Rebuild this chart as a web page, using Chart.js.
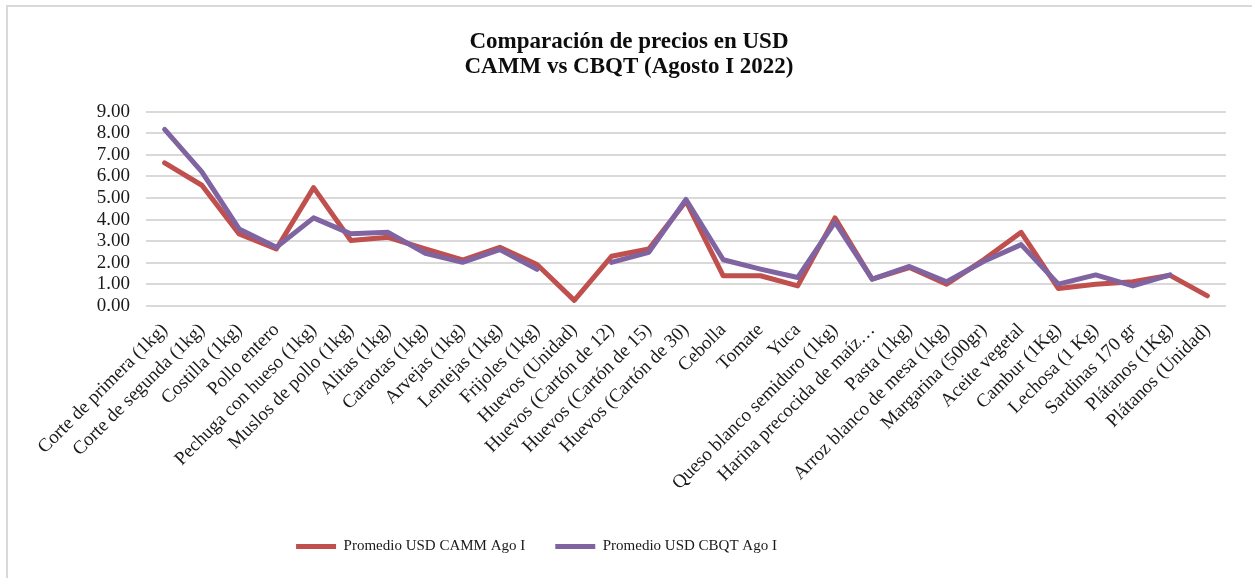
<!DOCTYPE html>
<html>
<head>
<meta charset="utf-8">
<script src="https://cdn.jsdelivr.net/npm/chart.js@4"></script>
<style>
  html, body { margin: 0; padding: 0; background: #fff; }
  #wrap { position: relative; width: 1252px; height: 578px; overflow: hidden; }
  #frame { position: absolute; left: 6px; top: 5px; width: 1300px; height: 700px;
           border-left: 2px solid #d9d9d9; border-top: 2px solid #d9d9d9; }
  canvas { position: absolute; left: 0; top: 0; }
</style>
</head>
<body>
<div id="wrap">
  <div id="frame"></div>
  <canvas id="c" width="1252" height="578"></canvas>
</div>
<script>
const categories = [
  "Corte de primera (1kg)", "Corte de segunda (1kg)", "Costilla (1kg)", "Pollo entero",
  "Pechuga con hueso (1kg)", "Muslos de pollo (1kg)", "Alitas (1kg)", "Caraotas (1kg)",
  "Arvejas (1kg)", "Lentejas (1kg)", "Frijoles (1kg)", "Huevos (Unidad)",
  "Huevos (Cartón de 12)", "Huevos (Cartón de 15)", "Huevos (Cartón de 30)", "Cebolla",
  "Tomate", "Yuca", "Queso blanco semiduro (1kg)", "Harina precocida de maíz…",
  "Pasta (1kg)", "Arroz blanco de mesa (1kg)", "Margarina (500gr)", "Aceite vegetal",
  "Cambur (1Kg)", "Lechosa (1 Kg)", "Sardinas 170 gr", "Plátanos (1Kg)", "Plátanos (Unidad)"
];
const cammValues = [6.63, 5.59, 3.34, 2.64, 5.48, 3.03, 3.18, 2.64, 2.13, 2.72, 1.92, 0.26,
  2.30, 2.64, 4.85, 1.40, 1.40, 0.93, 4.08, 1.24, 1.78, 1.01, 2.15, 3.41, 0.81, 1.01, 1.12, 1.42, 0.47];
const cbqtValues = [8.18, 6.21, 3.57, 2.72, 4.08, 3.34, 3.41, 2.44, 2.02, 2.61, 1.70, null,
  2.02, 2.48, 4.93, 2.14, 1.71, 1.32, 3.88, 1.24, 1.83, 1.12, 2.07, 2.84, 1.01, 1.44, 0.93, 1.44, null];
const seriesNames = ["Promedio USD CAMM Ago I", "Promedio USD CBQT Ago I"];
const titleLines = ["Comparación de precios en USD", "CAMM vs CBQT (Agosto I 2022)"];
const yTicks = [0, 1, 2, 3, 4, 5, 6, 7, 8, 9];

const FONT = "'Liberation Serif', 'Times New Roman', serif";
const TXT = "#1a1a1a";

// centre the title and legend boxes where the reference places them
function recentre(box, centre) {
  if (!box) return;
  const half = (box.right - box.left) / 2;
  box.left = centre - half;
  box.right = centre + half;
}
const boxShift = {
  id: 'boxShift',
  afterLayout(chart) {
    recentre(chart.legend, 536.5);
    recentre(chart.titleBlock, 629);
  }
};

new Chart(document.getElementById('c'), {
  type: 'line',
  data: {
    labels: categories,
    datasets: [
      { label: seriesNames[0], data: cammValues, borderColor: '#c0504d', backgroundColor: '#c0504d',
        borderWidth: 5, pointRadius: 0, pointHoverRadius: 0, tension: 0, spanGaps: false,
        borderCapStyle: 'round', borderJoinStyle: 'round', order: 1 },
      { label: seriesNames[1], data: cbqtValues, borderColor: '#8064a2', backgroundColor: '#8064a2',
        borderWidth: 5, pointRadius: 0, pointHoverRadius: 0, tension: 0, spanGaps: false,
        borderCapStyle: 'round', borderJoinStyle: 'round', order: 0 }
    ]
  },
  plugins: [boxShift],
  options: {
    responsive: false,
    animation: false,
    layout: { padding: { left: 0, right: 26, top: 0, bottom: 14 } },
    plugins: {
      tooltip: { enabled: false },
      title: {
        display: true, text: titleLines, color: '#0d0d0d',
        font: { family: FONT, size: 23, weight: 'bold', lineHeight: 1.1 },
        padding: { top: 29, bottom: 32 }
      },
      legend: {
        position: 'bottom',
        labels: {
          color: TXT, font: { family: FONT, size: 15 },
          usePointStyle: true, pointStyle: 'line', pointStyleWidth: 40, boxHeight: 5,
          padding: 30,
          sort: (a, b) => a.datasetIndex - b.datasetIndex
        }
      }
    },
    scales: {
      y: {
        min: 0, max: 9,
        afterBuildTicks: (s) => { s.ticks = yTicks.map(v => ({ value: v })); },
        afterFit: (s) => { s.width = 146; },
        border: { display: false },
        grid: { color: '#d9d9d9', lineWidth: 2, drawTicks: false },
        ticks: { color: TXT, font: { family: FONT, size: 19 }, padding: 16, autoSkip: false,
                 callback: (v) => Number(v).toFixed(2) }
      },
      x: {
        offset: true,
        border: { display: false },
        grid: { display: false, drawTicks: false },
        afterFit: (s) => { s.height = 203; },
        ticks: { color: TXT, font: { family: FONT, size: 19 }, autoSkip: false,
                 minRotation: 45, maxRotation: 45, padding: 13 }
      }
    }
  }
});
</script>
</body>
</html>
